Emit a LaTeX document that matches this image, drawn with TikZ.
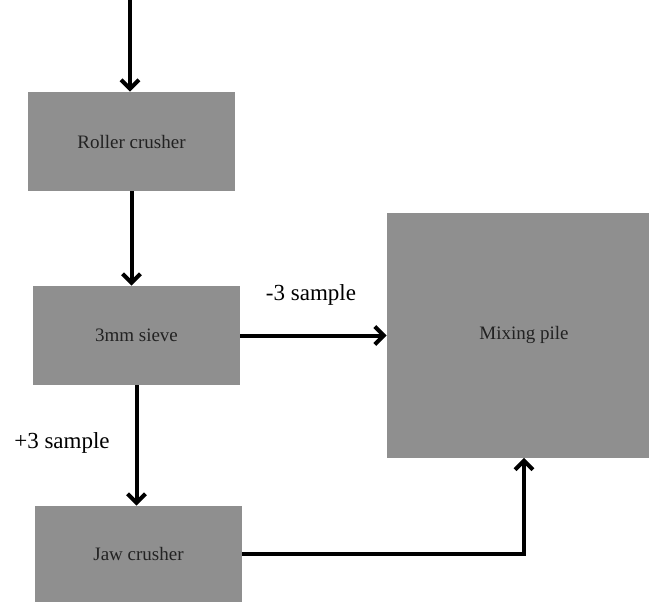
\documentclass[tikz,border=0pt]{standalone}
\usepackage{fontspec}
\setmainfont{Liberation Serif}
\usepackage{xcolor}
\usepackage{tikz}
\usetikzlibrary{arrows.meta, positioning, calc}
\definecolor{boxgray}{RGB}{143,143,143}
\definecolor{textdark}{RGB}{34,34,34}
\tikzset{
    unit/.style={
        rectangle,
        draw=none,
        fill=boxgray,
        minimum width=103.5pt,
        minimum height=49.5pt,
        inner sep=0pt,
        text=textdark,
        font=\fontsize{9.5pt}{11pt}\selectfont
    },
    flow/.style={
        draw=black,
        line width=2pt,
        -{Straight Barb[length=4.5pt,width=9pt,line width=2pt]}
    },
    streamlabel/.style={
        font=\fontsize{11.5pt}{13pt}\selectfont,
        inner sep=0pt
    }
}
\begin{document}
\begin{tikzpicture}[x=0.5pt, y=-0.5pt]
\useasboundingbox (0,0) rectangle (649,602);

% Process units
\node[unit] (roller) at (131.5,141.5) {Roller crusher};
\node[unit] (sieve) at (136.5,335.5) {3mm sieve};
\node[unit, minimum height=48pt] (jaw) at (138.5,554) {Jaw crusher};
\node[unit, minimum width=137pt, minimum height=122.5pt] (mix) at (524,335) {Mixing pile};

% Stream labels
\node[streamlabel] (minuslbl) at (311,295) {-3 sample};
\node[streamlabel] (pluslbl) at (62,443) {+3 sample};

% Feed
\coordinate (feed) at (130,-5);
\draw[flow] (feed) -- (feed |- roller.north);

% Connections
\draw[flow] (roller.south) -- (roller.south |- sieve.north);
\draw[flow] (sieve.east) -- (sieve.east -| mix.west);
\draw[flow] (sieve.south) -- (sieve.south |- jaw.north);
\draw[flow] (jaw.east) -| (mix.south);

\end{tikzpicture}
\end{document}
